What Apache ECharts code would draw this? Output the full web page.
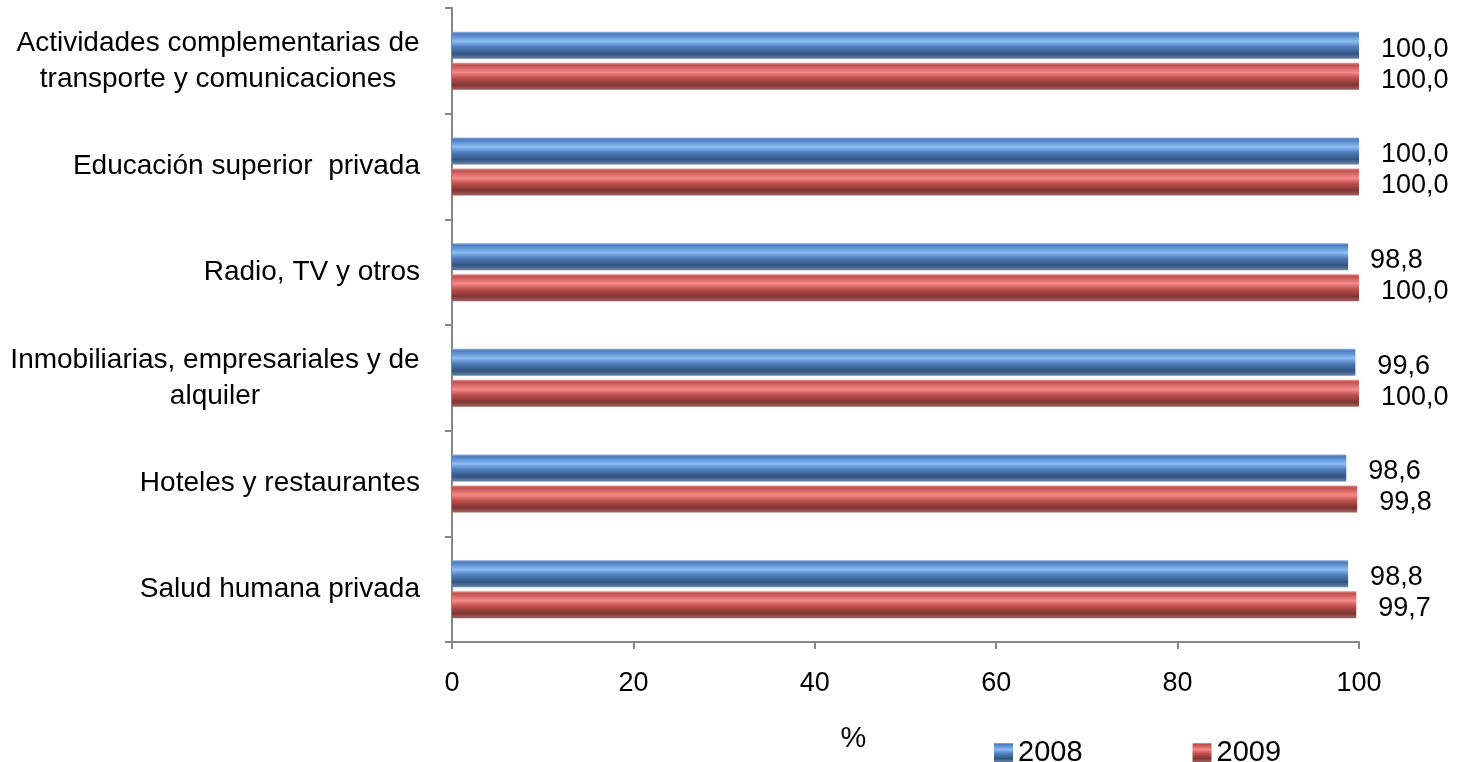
<!DOCTYPE html>
<html>
<head>
<meta charset="utf-8">
<script src="https://cdn.jsdelivr.net/npm/echarts@6/dist/echarts.min.js"></script>
<style>html,body{margin:0;padding:0;background:#fff}#c{width:1459px;height:762px}</style>
</head>
<body>
<div id="c"></div>
<script>
const categories = [
  'Actividades complementarias de\ntransporte y comunicaciones',
  'Educación superior  privada',
  'Radio, TV y otros',
  'Inmobiliarias, empresariales y de\nalquiler',
  'Hoteles y restaurantes',
  'Salud humana privada'
];
const values2008 = [100.0, 100.0, 98.8, 99.6, 98.6, 98.8];
const values2009 = [100.0, 100.0, 100.0, 100.0, 99.8, 99.7];
const xTicks = [0, 20, 40, 60, 80, 100];

const FONT = 'Liberation Sans';
const LABEL_SIZE = 28;
const grad = (stops) => new echarts.graphic.LinearGradient(0, 0, 0, 1, stops.map((c, i) => ({offset: c[0], color: c[1]})));
const blueGrad = grad([[0,'#8fb0dc'],[0.08,'#4a7cc0'],[0.35,'#8cbcf3'],[0.55,'#4f7fbf'],[0.82,'#33547e'],[1,'#6a86ad']]);
const redGrad = grad([[0,'#e09a98'],[0.08,'#c24f4d'],[0.35,'#f58a88'],[0.55,'#c0504d'],[0.82,'#7f3533'],[1,'#a06563']]);
const fmt = p => p.value.toFixed(1).replace('.', ',');

// multi-line category labels: lines centred within the block (block right-aligned at the axis)
const ctx = document.createElement('canvas').getContext('2d');
ctx.font = LABEL_SIZE + 'px "' + FONT + '"';
const rich = {};
const labelText = {};
categories.forEach((c, i) => {
  const lines = c.split('\n');
  if (lines.length > 1) {
    const w = Math.ceil(Math.max(...lines.map(l => ctx.measureText(l).width)));
    rich['m' + i] = {width: w, align: 'center', fontSize: LABEL_SIZE, lineHeight: 36, color: '#000', fontFamily: FONT};
    labelText[c] = lines.map(l => '{m' + i + '|' + l + '}').join('\n');
  } else {
    labelText[c] = c;
  }
});

const chart = echarts.init(document.getElementById('c'), null, {renderer: 'canvas'});
chart.setOption({
  animation: false,
  textStyle: {fontFamily: FONT},
  grid: {left: 452, right: 100, top: 8, bottom: 120, containLabel: false},
  legend: {
    data: ['2008', '2009'],
    left: 989, top: 733,
    itemWidth: 19, itemHeight: 19, itemGap: 110,
    icon: 'rect',
    textStyle: {fontSize: 29, color: '#000', fontFamily: FONT, padding: [2, 0, 0, 0]}
  },
  xAxis: {
    type: 'value', min: 0, max: 100, interval: 20,
    name: '%', nameLocation: 'middle', nameGap: 82,
    nameTextStyle: {fontSize: 29, color: '#000', padding: [0, 104, 0, 0]},
    axisLine: {show: true, lineStyle: {color: '#868686', width: 2}},
    axisTick: {show: true, length: 7, lineStyle: {color: '#868686', width: 2}},
    axisLabel: {fontSize: 27, color: '#000', margin: 28, formatter: v => xTicks.includes(v) ? String(v) : ''},
    splitLine: {show: false}
  },
  yAxis: {
    type: 'category', data: categories, inverse: true,
    axisLine: {show: true, lineStyle: {color: '#868686', width: 2}},
    axisTick: {show: true, length: 7, lineStyle: {color: '#868686', width: 2}},
    axisLabel: {
      fontSize: LABEL_SIZE, color: '#000', margin: 32, align: 'right', lineHeight: 36,
      formatter: v => labelText[v], rich: rich
    }
  },
  series: [
    {
      name: '2008', type: 'bar', data: values2008,
      barWidth: 27, barGap: '15%', barCategoryGap: '43%',
      itemStyle: {color: blueGrad},
      label: {show: true, position: 'right', distance: 22, offset: [0, 4], fontSize: 27, color: '#000', formatter: fmt}
    },
    {
      name: '2009', type: 'bar', data: values2009,
      barWidth: 27,
      itemStyle: {color: redGrad},
      label: {show: true, position: 'right', distance: 22, offset: [0, 4], fontSize: 27, color: '#000', formatter: fmt}
    }
  ]
});
</script>
</body>
</html>
